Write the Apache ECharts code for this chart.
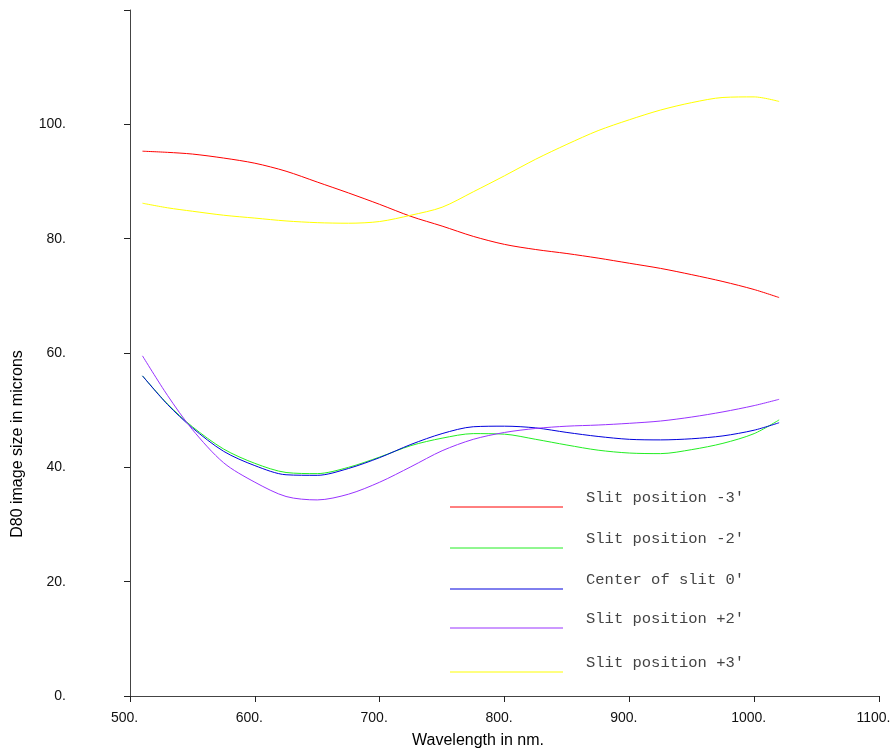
<!DOCTYPE html>
<html>
<head>
<meta charset="utf-8">
<script src="https://cdn.jsdelivr.net/npm/echarts@6/dist/echarts.min.js"></script>
<style>
  html, body { margin: 0; padding: 0; background: #ffffff; }
  #chart { width: 891px; height: 751px; }
</style>
</head>
<body>
<div id="chart"></div>
<script>
// Wavelength sample points (nm)
const wavelengths = [510, 530, 550, 575, 600, 625, 650, 675, 700, 725, 750, 775, 800, 825, 850, 875, 900, 925, 950, 975, 1000, 1020];

const seriesNames = ["Slit position -3\u2032", "Slit position -2\u2032", "Center of slit 0\u2032", "Slit position +2\u2032", "Slit position +3\u2032"];
const seriesColors = ["#ff0000", "#22ee22", "#0000dd", "#9933ff", "#ffff00"];

// D80 image size in microns
const slitMinus3 = [95.3, 95.1, 94.8, 94.1, 93.2, 91.8, 89.9, 88.0, 86.0, 83.9, 82.2, 80.4, 79.0, 78.1, 77.4, 76.6, 75.7, 74.8, 73.7, 72.5, 71.1, 69.7];
const slitMinus2 = [56.0, 51.1, 47.1, 43.2, 40.7, 39.1, 38.9, 40.0, 41.8, 43.8, 45.1, 45.9, 45.8, 44.9, 43.9, 43.0, 42.5, 42.4, 43.1, 44.2, 45.9, 48.3];
const slitCenter = [56.0, 51.0, 46.9, 42.8, 40.3, 38.7, 38.6, 39.8, 41.7, 44.0, 45.9, 47.1, 47.2, 46.9, 46.1, 45.4, 44.9, 44.8, 45.0, 45.5, 46.5, 47.8];
const slitPlus2 = [59.5, 52.6, 46.6, 40.8, 37.4, 34.9, 34.3, 35.3, 37.4, 40.1, 42.9, 44.9, 46.1, 46.8, 47.2, 47.4, 47.7, 48.1, 48.8, 49.7, 50.8, 51.9];
const slitPlus3 = [86.2, 85.4, 84.8, 84.1, 83.6, 83.1, 82.8, 82.7, 83.0, 84.1, 85.5, 88.2, 91.0, 93.9, 96.5, 98.9, 100.8, 102.5, 103.8, 104.7, 104.8, 104.0];

const seriesValues = [slitMinus3, slitMinus2, slitCenter, slitPlus2, slitPlus3];

const xTicks = { min: 500, max: 1100, interval: 100 };
const yTicks = { min: 0, max: 120, interval: 20 };

const xTitle = "Wavelength in nm.";
const yTitle = "D80 image size in microns";

const chart = echarts.init(document.getElementById('chart'));

const axisCommon = {
  axisLine: { show: true, lineStyle: { color: '#444', width: 1 } },
  axisTick: { show: true, inside: false, length: 6, lineStyle: { color: '#222', width: 1 } },
  splitLine: { show: false },
  axisLabel: { color: '#111', fontSize: 14, fontFamily: 'Liberation Sans, Arial, sans-serif' }
};

const legendGraphics = [];
const legendLineY = [507, 548, 589, 628, 672];
seriesNames.forEach((name, i) => {
  legendGraphics.push({
    type: 'line',
    shape: { x1: 450, y1: legendLineY[i], x2: 563, y2: legendLineY[i] },
    style: { stroke: seriesColors[i], lineWidth: 1 }
  });
  legendGraphics.push({
    type: 'text',
    x: 586,
    y: legendLineY[i] - 9,
    style: {
      text: name,
      fill: '#444',
      font: '15.5px "Liberation Mono", "Courier New", monospace',
      textAlign: 'left',
      textVerticalAlign: 'middle'
    }
  });
});

const option = {
  animation: false,
  backgroundColor: '#ffffff',
  grid: { left: 130, right: 12, top: 10, bottom: 55, containLabel: false, outerBoundsMode: 'none' },
  xAxis: Object.assign({}, axisCommon, {
    type: 'value',
    min: xTicks.min, max: xTicks.max, interval: xTicks.interval,
    axisLabel: Object.assign({}, axisCommon.axisLabel, {
      margin: 15,
      padding: [0, 11, 0, 0],
      formatter: v => v + '.'
    })
  }),
  yAxis: Object.assign({}, axisCommon, {
    type: 'value',
    min: yTicks.min, max: yTicks.max, interval: yTicks.interval,
    axisLabel: Object.assign({}, axisCommon.axisLabel, {
      margin: 64,
      formatter: v => (v === yTicks.max ? '' : v + '.')
    })
  }),
  graphic: [
    {
      type: 'text',
      x: 18, y: 444,
      rotation: Math.PI / 2,
      style: {
        text: yTitle, fill: '#000',
        font: '16px "Liberation Sans", Arial, sans-serif',
        textAlign: 'center', textVerticalAlign: 'middle'
      }
    },
    {
      type: 'text',
      x: 478, y: 741,
      style: {
        text: xTitle, fill: '#000',
        font: '16px "Liberation Sans", Arial, sans-serif',
        textAlign: 'center', textVerticalAlign: 'middle'
      }
    }
  ].concat(legendGraphics),
  series: seriesNames.map((name, i) => ({
    name: name,
    type: 'line',
    data: wavelengths.map((w, j) => [w, seriesValues[i][j]]),
    smooth: 0.3,
    showSymbol: false,
    symbol: 'none',
    lineStyle: { color: seriesColors[i], width: 1 },
    itemStyle: { color: seriesColors[i] },
    z: 2 + i
  }))
};

chart.setOption(option);
</script>
</body>
</html>
